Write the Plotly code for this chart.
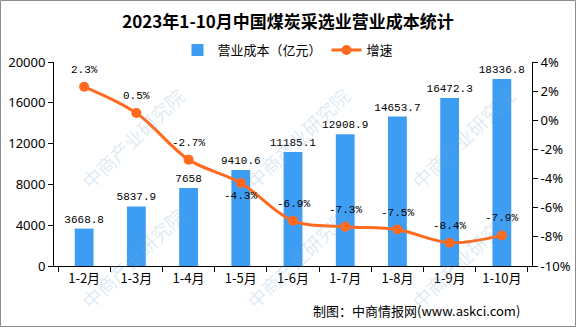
import plotly.graph_objects as go

# 2023年1-10月中国煤炭采选业营业成本（亿元）及同比增速（%）
months = ["1-2月", "1-3月", "1-4月", "1-5月", "1-6月", "1-7月", "1-8月", "1-9月", "1-10月"]
cost = [3668.8, 5837.9, 7658, 9410.6, 11185.1, 12908.9, 14653.7, 16472.3, 18336.8]
growth = [2.3, 0.5, -2.7, -4.3, -6.9, -7.3, -7.5, -8.4, -7.9]
cost_labels = ["3668.8", "5837.9", "7658", "9410.6", "11185.1", "12908.9", "14653.7", "16472.3", "18336.8"]
growth_labels = [f"{v}%" for v in growth]
left_ticks = [0, 4000, 8000, 12000, 16000, 20000]
right_ticks = [-10, -8, -6, -4, -2, 0, 2, 4]

W, H = 576, 327
ML, MR, MT, MB = 54, 44, 62, 61
pw, ph = W - ML - MR, H - MT - MB

BAR = "#3d9df2"
LINE = "#ff6a1f"
CJK = "Noto Sans CJK SC"
MONO = "Liberation Mono"

fig = go.Figure()
fig.add_trace(go.Bar(
    x=months, y=cost, name="营业成本（亿元）",
    marker=dict(color=BAR, line=dict(width=0)),
    width=0.36,
    text=cost_labels, textposition="outside", constraintext="none",
    textfont=dict(family=MONO, size=11, color="#000000"),
    cliponaxis=False,
))
fig.add_trace(go.Scatter(
    x=months, y=growth, name="增速", yaxis="y2",
    mode="lines+markers",
    line=dict(color=LINE, width=3, shape="spline", smoothing=1.0),
    marker=dict(color=LINE, size=10),
    cliponaxis=False,
))

# growth labels: above each point, except 1-5月 which sits below the line
for i, (m, g, lab) in enumerate(zip(months, growth, growth_labels)):
    fig.add_annotation(
        x=m, y=g, xref="x", yref="y2", text=lab, showarrow=False,
        yshift=-13 if i == 3 else 17,
        font=dict(family=MONO, size=11, color="#000000"),
    )


def axis_style(font_family="Noto Sans"):
    return dict(
        showgrid=False, zeroline=False, showline=True, linecolor="#000000", linewidth=1,
        ticks="outside", ticklen=5, tickcolor="#000000",
        tickfont=dict(family=font_family, size=13, color="#000000"),
    )


fig.update_layout(
    width=W, height=H,
    margin=dict(l=ML, r=MR, t=MT, b=MB, pad=0, autoexpand=False),
    paper_bgcolor="#ffffff", plot_bgcolor="#ffffff",
    title=dict(
        text="<b>2023年1-10月中国煤炭采选业营业成本统计</b>",
        x=0.5, xref="container", xanchor="center",
        y=1 - 22 / H, yref="container", yanchor="middle",
        font=dict(family=CJK, size=17, color="#000000"),
    ),
    legend=dict(
        orientation="h", xref="container", yref="container",
        x=0.5, xanchor="center", y=1 - 50 / H, yanchor="middle",
        font=dict(family=CJK, size=13, color="#000000"),
        itemwidth=30, bgcolor="rgba(0,0,0,0)",
    ),
    xaxis=dict(**axis_style(CJK), tickson="boundaries", type="category"),
    yaxis=dict(
        **axis_style(),
        range=[0, 20000], tickvals=left_ticks, ticktext=[str(t) for t in left_ticks],
    ),
    yaxis2=dict(
        **axis_style(), overlaying="y", side="right",
        range=[-10, 4], tickvals=right_ticks, ticktext=[f"{t}%" for t in right_ticks],
    ),
    showlegend=True,
)

# footer credit
fig.add_annotation(
    text="制图：中商情报网(www.askci.com)",
    xref="paper", yref="paper",
    x=(522 - ML) / pw, xanchor="right",
    y=-(310 - (H - MB)) / ph, yanchor="middle",
    showarrow=False, font=dict(family=CJK, size=13, color="#000000"),
)

# faint diagonal watermark tiles
for cy in (138, 258):
    for cx in (132, 297, 462):
        fig.add_annotation(
            text="中商产业研究院", xref="paper", yref="paper",
            x=(cx - ML) / pw, y=1 - (cy - MT) / ph,
            xanchor="center", yanchor="middle", showarrow=False,
            textangle=-44,
            font=dict(family=CJK, size=19, color="rgba(120,170,210,0.25)"),
        )

# thin grey frame around the canvas
fig.add_shape(
    type="rect", xref="paper", yref="paper",
    x0=(0.5 - ML) / pw, x1=(W - 0.5 - ML) / pw,
    y0=-(MB - 0.5) / ph, y1=1 + (MT - 0.5) / ph,
    line=dict(color="#8c8c8c", width=1), fillcolor="rgba(0,0,0,0)", layer="below",
)

fig.write_html("out.html")
